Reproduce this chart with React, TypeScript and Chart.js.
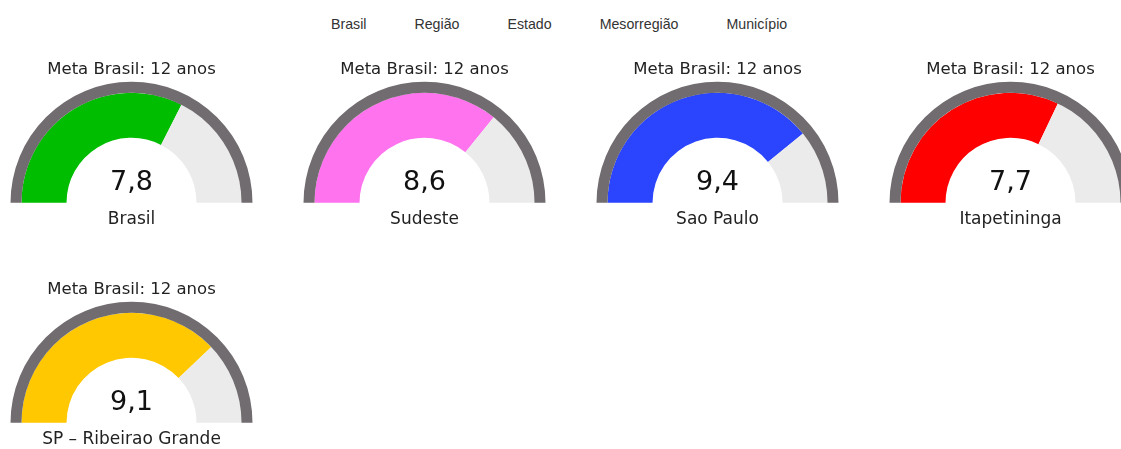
import React, { useEffect, useRef } from "react";
import { Chart, registerables } from "chart.js";

Chart.register(...registerables);

// ---- data ----
const META = 12;
const metaTitle = "Meta Brasil: 12 anos";
const names = ["Brasil", "Sudeste", "Sao Paulo", "Itapetininga", "SP – Ribeirao Grande"];
const values = [7.8, 8.6, 9.4, 7.7, 9.1];
const colors = ["#00bd00", "#ff73ee", "#2b45ff", "#ff0000", "#ffc800"];
const legendLabels = ["Brasil", "Região", "Estado", "Mesorregião", "Município"];

// ---- layout ----
const CANVAS_W = 293;
const CANVAS_H = 195;
const COLS = 4;
const RING_COLOR = "#716c6f";
const REST_COLOR = "#ebebeb";
const FONT = "'DejaVu Sans', sans-serif";

function fmt(v: number) {
  return v.toFixed(1).replace(".", ",");
}

function Gauge({ name, value, color, left, top }: { name: string; value: number; color: string; left: number; top: number }) {
  const ref = useRef<HTMLCanvasElement>(null);
  useEffect(() => {
    const textPlugin = {
      id: "gaugeText",
      afterDraw(chart: any) {
        const meta = chart.getDatasetMeta(1);
        const arc = meta.data[0];
        if (!arc) return;
        const ctx = chart.ctx;
        ctx.save();
        ctx.textAlign = "center";
        ctx.textBaseline = "middle";
        ctx.fillStyle = "#111";
        ctx.font = `27px ${FONT}`;
        ctx.fillText(fmt(value), arc.x, arc.y - 20);
        ctx.fillStyle = "#222";
        ctx.font = `17px ${FONT}`;
        ctx.fillText(name, arc.x, arc.y + 17);
        ctx.restore();
      },
    };
    const chart = new Chart(ref.current as HTMLCanvasElement, {
      type: "doughnut",
      data: {
        labels: ["valor", "restante"],
        datasets: [
          { data: [META], backgroundColor: [RING_COLOR], borderWidth: 0, weight: 11 } as any,
          { data: [value, META - value], backgroundColor: [color, REST_COLOR], borderWidth: 0, weight: 45 } as any,
        ],
      },
      options: {
        responsive: false,
        animation: false,
        rotation: -90,
        circumference: 180,
        cutout: "53.7%",
        layout: { padding: { left: 25.5, right: 25.5, top: 0, bottom: 42.2 } },
        plugins: {
          legend: { display: false },
          tooltip: { enabled: false },
          title: {
            display: true,
            text: metaTitle,
            color: "#222",
            font: { family: FONT, size: 16.5, weight: "normal" as any },
            padding: { top: 10, bottom: 2 },
          },
        },
      } as any,
      plugins: [textPlugin],
    });
    return () => chart.destroy();
  }, [name, value, color]);
  return (
    <canvas
      ref={ref}
      width={CANVAS_W}
      height={CANVAS_H}
      style={{ position: "absolute", left, top, width: CANVAS_W, height: CANVAS_H }}
    />
  );
}

export default function App() {
  return (
    <div
      style={{
        position: "absolute",
        left: 0,
        top: 0,
        width: 1121,
        height: 449,
        overflow: "hidden",
        background: "#fff",
      }}
    >
      <div
        style={{
          position: "absolute",
          left: 331,
          top: 16,
          display: "flex",
          gap: 48,
          fontFamily: "'Liberation Sans', Arial, sans-serif",
          fontSize: 14.2,
          lineHeight: "16px",
          color: "#333",
          whiteSpace: "nowrap",
        }}
      >
        {legendLabels.map((l) => (
          <span key={l}>{l}</span>
        ))}
      </div>
      {names.map((n, i) => {
        const c = i % COLS;
        const r = Math.floor(i / COLS);
        const left = 131 + 293 * c - CANVAS_W / 2;
        const top = 50 + 220 * r;
        return <Gauge key={n} name={n} value={values[i]} color={colors[i]} left={left} top={top} />;
      })}
    </div>
  );
}
